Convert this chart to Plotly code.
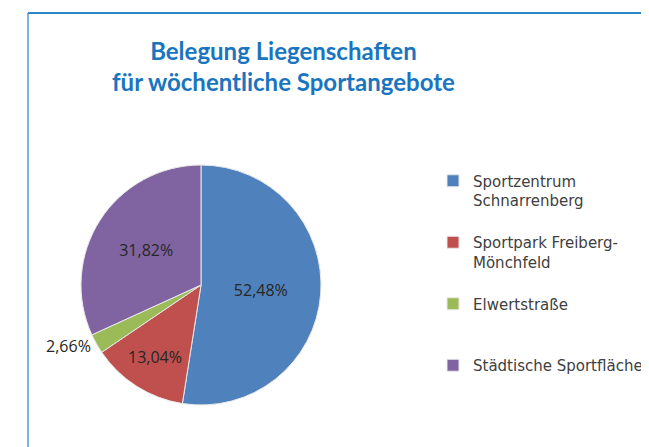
import plotly.graph_objects as go

# data
standorte = [
    " <br>Sportzentrum<br>Schnarrenberg",
    " <br>Sportpark Freiberg-<br>Mönchfeld",
    " <br>Elwertstraße<br> ",
    " <br>Städtische Sportflächen<br> ",
]
anteile = [52.48, 13.04, 2.66, 31.82]
farben = ["#4f81bd", "#c0504d", "#9bbb59", "#8064a2"]
textpos = ["inside", "inside", "outside", "inside"]

# the page adds an 8px body margin, so the figure is 8px smaller on each side
W, H = 641, 439
cx, cy, r = 193, 277, 120

fig = go.Figure(
    go.Pie(
        labels=standorte,
        values=anteile,
        sort=False,
        direction="clockwise",
        rotation=0,
        marker=dict(colors=farben, line=dict(color="#e8e8e8", width=1)),
        texttemplate="%{value:.2f}%",
        textposition=textpos,
        insidetextorientation="horizontal",
        textfont=dict(family="Open Sans", size=16, color="#262626"),
        hoverinfo="skip",
        domain=dict(
            x=[(cx - r) / W, (cx + r) / W],
            y=[(H - cy - r) / H, (H - cy + r) / H],
        ),
    )
)

fig.add_annotation(
    text="Belegung Liegenschaften<br>für wöchentliche Sportangebote",
    xref="paper", yref="paper",
    x=275 / W, y=1 - 58 / H,
    xanchor="center", yanchor="middle",
    showarrow=False,
    font=dict(family="Lato", size=24, color="#1a75c0", weight="bold"),
)

fig.update_layout(
    width=W,
    height=H,
    separators=",.",
    margin=dict(l=0, r=0, t=0, b=0, autoexpand=False),
    paper_bgcolor="white",
    plot_bgcolor="white",
    legend=dict(
        x=425 / W,
        xanchor="left",
        y=1 - 137 / H,
        yanchor="top",
        font=dict(family="DejaVu Sans", size=15, color="#404040"),
        bgcolor="rgba(0,0,0,0)",
    ),
    shapes=[
        dict(type="line", xref="paper", yref="paper", x0=20 / W, x1=20 / W,
             y0=0, y1=1 - 5 / H, line=dict(color="#7fb2e0", width=2)),
        dict(type="line", xref="paper", yref="paper", x0=20 / W, x1=1,
             y0=1 - 5 / H, y1=1 - 5 / H, line=dict(color="#2a86c8", width=2)),
    ],
)

fig.write_html("out.html")
